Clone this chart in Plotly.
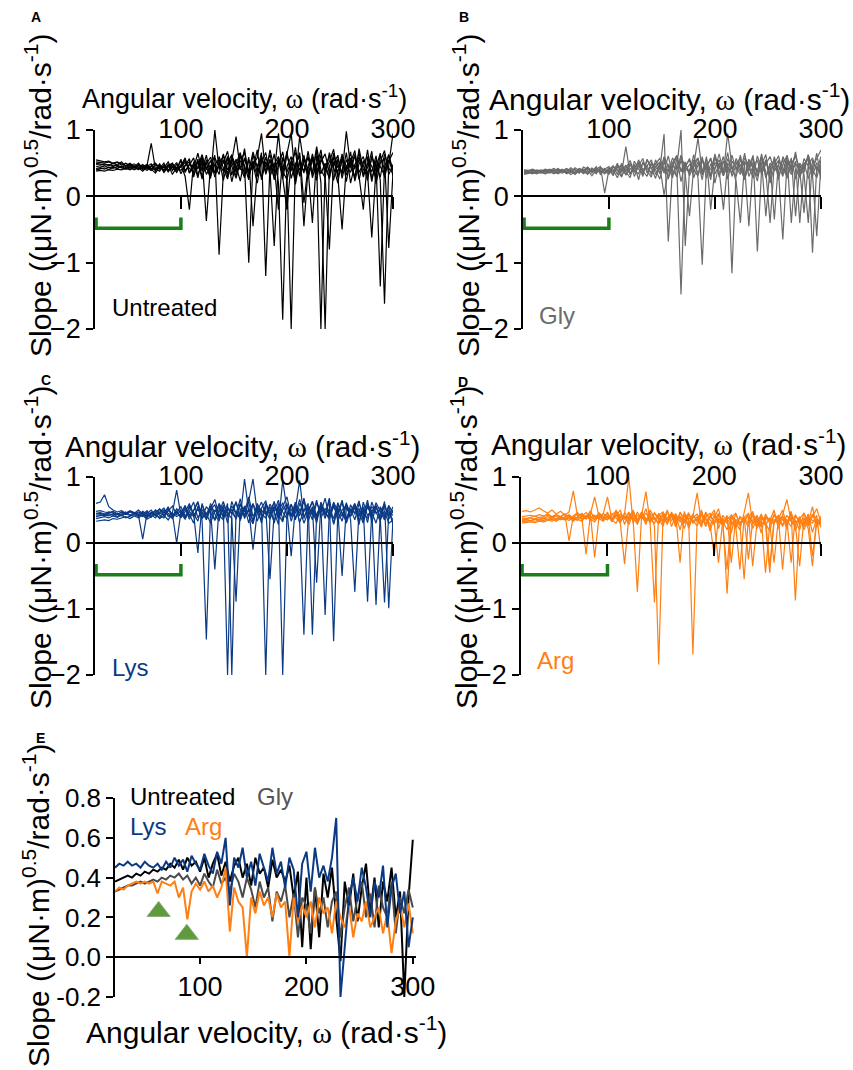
import plotly.graph_objects as go

# ---------------- data ----------------
OMEGA = [20, 24, 28, 32, 36, 40, 44, 48, 52, 56, 60, 64, 68, 72, 76, 80, 84, 88, 92, 96,
         100, 104, 108, 112, 116, 120, 124, 128, 132, 136, 140, 144, 148, 152, 156, 160, 164, 168, 172, 176,
         180, 184, 188, 192, 196, 200, 204, 208, 212, 216, 220, 224, 228, 232, 236, 240, 244, 248, 252, 256,
         260, 264, 268, 272, 276, 280, 284, 288, 292, 296, 300]

UNTREATED_RUNS = [
    [0.38,0.39,0.38,0.40,0.39,0.41,0.40,0.42,0.40,0.43, 0.41,0.44,0.39,0.45,0.42,0.38,0.47,0.40,0.44,0.36,
     0.48,0.30,-0.20,0.52,0.41,0.60,0.33,0.45,0.62,-0.88, 0.35,0.58,0.22,0.49,0.66,0.30,0.55,0.41,0.70,0.25,
     0.52,0.38,0.64,0.20,-1.86,0.45,0.60,0.18,0.55,0.35, 0.68,0.28,0.50,-2.00,0.42,0.62,0.24,0.57,0.33,0.66,
     0.20,0.48,0.59,0.31,0.70,0.26,0.52,-1.36,0.44,0.63, 0.30],
    [0.42,0.43,0.41,0.44,0.42,0.45,0.43,0.41,0.46,0.43, 0.47,0.40,0.45,0.49,0.38,0.46,0.43,0.52,0.39,0.48,
     0.44,0.55,0.36,0.50,0.28,0.58,-0.37,0.47,0.35,0.60, 0.43,0.26,0.57,0.38,0.64,0.45,-1.00,0.52,0.30,0.61,
     0.36,0.56,0.25,0.48,0.67,0.32,-2.00,0.50,0.40,0.62, 0.27,0.55,0.44,0.70,0.30,-0.80,0.52,0.36,0.64,0.22,
     0.58,0.41,0.66,0.29,0.50,0.37,0.61,0.24,-1.62,0.47, 0.95],
    [0.48,0.47,0.49,0.46,0.50,0.47,0.52,0.45,0.48,0.44, 0.50,0.42,0.46,0.80,0.41,0.49,0.37,0.47,0.43,0.51,
     0.34,0.46,0.57,0.29,0.53,0.40,0.62,0.31,0.48,0.56, 0.24,0.50,0.63,0.36,0.45,0.28,0.59,-0.45,0.40,0.66,
     -1.20,0.48,0.30,0.57,0.42,0.64,0.95,0.26,0.51,0.38, 0.60,0.33,0.69,0.21,-2.00,0.46,0.58,0.29,0.54,0.41,
     0.67,0.23,0.49,0.60,0.35,-0.62,0.43,0.65,0.28,0.55, 0.38],
    [0.52,0.51,0.50,0.52,0.49,0.51,0.47,0.50,0.46,0.49, 0.44,0.48,0.42,0.46,0.50,0.41,0.45,0.38,0.49,0.42,
     0.53,0.39,0.47,0.58,0.32,0.51,0.44,0.27,1.00,0.40, 0.55,0.34,0.61,0.46,0.23,0.58,0.37,0.67,0.44,0.29,
     0.59,0.40,-0.75,0.53,0.35,0.68,0.27,0.49,0.61,-0.45, 0.43,0.56,0.24,0.63,0.38,0.52,0.71,0.30,-0.50,0.47,
     0.36,0.62,0.25,0.54,0.42,0.68,0.19,0.50,0.58,-0.78, 0.36],
    [0.55,0.54,0.52,0.53,0.50,0.52,0.49,0.46,0.50,0.45, 0.48,0.43,0.47,0.40,0.49,0.44,0.39,0.46,0.50,0.37,
     0.45,0.51,0.42,0.37,0.56,0.30,0.49,0.59,0.35,0.47, 0.62,0.29,0.53,0.90,0.41,0.57,0.33,0.48,0.20,0.56,
     0.44,0.63,0.35,0.95,0.28,-0.20,0.53,0.66,0.31,0.57, 0.39,-0.40,0.61,0.34,0.50,0.26,0.65,0.43,0.58,0.32,
     0.51,0.69,0.30,-0.20,0.57,0.45,0.27,0.62,0.40,0.53, 0.66],
    [0.40,0.41,0.43,0.40,0.44,0.42,0.45,0.41,0.44,0.40, 0.43,0.38,0.44,0.41,0.35,0.45,0.40,0.48,0.33,0.44,
     0.39,0.47,0.52,0.34,0.45,0.63,0.40,0.54,0.29,0.50, 0.38,0.60,0.45,0.27,0.52,0.66,0.35,0.47,0.58,0.95,
     0.33,0.54,0.46,-0.20,0.59,0.37,0.51,0.22,0.91,0.48, 0.30,0.64,0.37,0.55,0.45,0.28,0.60,0.49,0.35,0.98,
     0.44,0.30,0.56,0.47,0.24,0.61,0.38,0.52,0.69,0.33, 0.48],
    [0.45,0.44,0.46,0.43,0.45,0.42,0.46,0.44,0.41,0.45, 0.40,0.46,0.43,0.39,0.48,0.42,0.50,0.37,0.45,0.41,
     0.56,0.36,0.49,0.43,0.65,0.38,0.51,0.30,0.58,0.44, 0.50,0.68,0.32,0.56,0.40,0.72,0.28,0.53,0.46,0.60,
     0.35,0.70,0.42,0.55,0.26,0.62,0.38,0.74,0.30,0.52, 0.58,0.35,0.75,0.40,0.28,0.66,0.44,0.20,0.60,0.38,
     0.55,0.26,0.72,0.40,0.33,0.58,0.47,0.29,0.64,0.42, 0.35],
    [0.50,0.49,0.47,0.48,0.46,0.47,0.44,0.47,0.43,0.46, 0.42,0.45,0.48,0.42,0.40,0.47,0.36,0.44,0.48,0.40,
     0.46,0.58,0.35,0.44,0.52,0.26,0.55,0.42,0.48,0.33, 0.64,0.40,0.52,0.30,0.60,0.46,0.25,0.63,0.36,0.51,
     0.66,0.30,0.48,0.60,0.38,0.25,0.54,0.42,0.66,-0.10, 0.47,0.60,0.33,0.52,0.64,0.35,0.48,0.62,0.27,0.55,
     0.44,0.63,0.36,0.50,0.60,0.22,0.55,0.45,0.32,0.62, 0.40],
]

GLY_RUNS = [
    [0.36,0.37,0.35,0.38,0.36,0.39,0.37,0.40,0.36,0.39, 0.37,0.41,0.35,0.42,0.38,0.33,0.43,0.37,0.40,0.34,
     0.42,0.31,0.47,0.36,0.75,0.33,0.48,0.25,0.52,0.38, 0.29,0.55,0.40,0.94,-0.68,0.45,0.60,0.22,0.51,0.35,
     0.63,0.28,-1.03,0.46,0.57,0.20,0.50,0.38,0.66,0.30, 0.48,0.58,0.27,0.44,0.62,-0.83,0.41,0.55,0.25,0.60,
     0.35,-0.65,0.52,0.40,0.67,0.28,0.49,0.58,-0.85,0.46, 0.30],
    [0.40,0.39,0.41,0.38,0.40,0.37,0.41,0.38,0.42,0.37, 0.40,0.36,0.43,0.39,0.35,0.44,0.38,0.41,0.45,0.05,
     0.40,0.46,0.33,0.50,0.37,0.28,0.53,0.41,0.34,0.56, 0.43,0.27,0.50,0.38,0.61,0.32,0.47,-1.48,0.44,0.57,
     0.36,0.52,0.25,0.60,-0.20,0.43,0.55,0.31,0.48,-1.16, 0.39,0.62,0.30,0.51,0.44,0.23,0.58,0.37,-0.40,0.49,
     0.61,0.34,0.45,0.56,0.26,0.50,0.41,0.63,0.32,-0.60, 0.52],
    [0.33,0.34,0.36,0.34,0.37,0.35,0.38,0.34,0.37,0.35, 0.38,0.33,0.37,0.40,0.34,0.39,0.31,0.40,0.36,0.42,
     0.35,0.40,0.28,0.44,0.38,0.50,0.30,0.46,0.57,0.35, 0.48,0.40,0.26,0.52,0.37,0.58,0.44,1.00,-0.75,0.40,
     0.55,0.33,0.60,0.27,0.49,0.41,0.64,0.35,0.95,0.46, 0.22,-0.40,0.53,0.38,0.59,0.31,0.48,0.63,0.20,0.45,
     0.54,0.37,0.60,-0.40,0.42,0.29,0.57,0.46,0.35,0.65, 0.25],
    [0.38,0.39,0.37,0.40,0.38,0.41,0.39,0.42,0.38,0.41, 0.36,0.43,0.39,0.35,0.44,0.40,0.37,0.45,0.33,0.41,
     0.45,0.37,0.50,0.31,0.43,0.54,0.36,0.48,0.30,0.55, 0.41,0.50,0.34,0.60,0.45,0.28,0.56,0.39,0.52,0.31,
     0.46,0.88,0.37,0.57,0.30,0.51,0.42,0.60,0.26,0.53, 0.44,0.33,0.58,0.47,0.27,0.61,0.39,0.52,0.35,0.57,
     0.30,0.48,0.62,0.37,0.53,-0.40,0.45,0.58,0.31,0.50, 0.43],
    [0.35,0.36,0.34,0.37,0.35,0.38,0.35,0.37,0.34,0.38, 0.35,0.39,0.33,0.38,0.41,0.36,0.40,0.34,0.43,0.38,
     0.33,0.44,0.39,0.29,0.47,0.35,0.42,0.52,0.37,0.46, 0.55,0.33,0.47,0.02,0.39,0.52,0.29,0.61,0.43,0.36,
     0.50,0.58,0.32,0.47,0.40,0.62,0.29,0.53,0.44,0.35, 0.57,0.41,0.26,0.55,0.48,0.36,0.64,0.29,0.50,0.43,
     0.38,0.56,0.27,0.49,0.60,0.42,0.33,-0.40,0.55,0.39, 0.60],
    [0.37,0.38,0.39,0.36,0.39,0.37,0.40,0.36,0.39,0.37, 0.41,0.37,0.34,0.42,0.39,0.44,0.35,0.42,0.38,0.36,
     0.43,0.38,0.45,0.40,0.33,0.48,0.39,0.34,0.50,0.42, 0.36,0.49,0.57,0.41,0.30,0.50,0.62,0.37,0.46,0.55,
     0.28,0.47,0.53,0.39,0.34,0.58,0.46,0.31,0.57,0.41, 0.52,0.37,0.65,0.30,0.46,0.54,0.33,0.49,0.60,0.38,
     0.47,0.30,0.55,0.43,0.62,0.35,0.50,0.27,0.44,0.58, 0.70],
    [0.39,0.38,0.40,0.39,0.37,0.40,0.38,0.39,0.41,0.38, 0.42,0.39,0.36,0.41,0.37,0.42,0.40,0.36,0.44,0.39,
     0.36,0.45,0.40,0.38,0.47,0.33,0.44,0.50,0.38,0.30, 0.51,0.44,0.36,0.58,0.26,0.47,0.40,0.62,0.33,-0.30,
     0.44,0.57,0.35,0.50,0.25,0.64,0.38,-0.20,0.50,0.42, 0.30,0.55,0.46,-0.45,0.52,0.38,0.60,0.28,0.48,-0.35,
     0.55,0.42,0.30,0.58,-0.30,0.47,0.36,0.62,0.40,0.28, 0.55],
    [0.34,0.35,0.37,0.35,0.36,0.34,0.37,0.39,0.35,0.40, 0.34,0.38,0.41,0.36,0.40,0.34,0.39,0.42,0.37,0.35,
     0.40,0.34,0.43,0.47,0.32,0.42,0.37,0.55,0.40,0.46, 0.33,0.44,0.52,0.35,0.48,0.40,0.30,0.54,0.38,0.48,
     0.40,0.31,0.55,0.42,0.58,0.34,0.47,0.52,0.36,0.62, 0.40,0.48,0.25,0.56,0.42,0.30,0.52,-0.30,0.44,0.55,
     0.25,0.60,0.46,0.33,0.50,0.38,-0.25,0.48,0.58,0.40, 0.35],
]

LYS_RUNS = [
    [0.60,0.62,0.73,0.55,0.50,0.47,0.49,0.45,0.48,0.44, 0.47,0.43,0.49,0.40,0.46,0.52,0.41,0.48,0.56,0.43,
     0.50,0.38,0.57,0.44,-0.15,0.60,0.35,0.52,0.66,0.41, 0.55,0.30,0.63,0.45,0.38,0.97,0.47,0.60,0.33,0.52,
     -2.00,0.45,0.62,0.36,0.55,0.70,0.40,0.58,0.30,-1.39, 0.49,0.63,0.35,0.57,0.44,0.68,0.28,0.53,0.40,0.61,
     0.35,-0.74,0.50,0.43,0.65,0.31,0.56,0.38,-0.90,0.47, 0.42],
    [0.45,0.46,0.44,0.47,0.45,0.43,0.47,0.44,0.48,0.45, 0.42,0.06,0.45,0.50,0.41,0.47,0.53,0.40,0.46,0.80,
     0.42,0.55,0.36,0.49,0.61,0.33,-1.46,0.50,0.58,0.37, 0.52,-2.00,0.45,0.63,0.34,0.56,0.41,0.29,0.60,0.46,
     0.53,-0.55,0.48,0.65,0.35,0.57,0.42,0.62,0.31,0.50, 0.60,-1.39,0.44,0.56,0.37,0.66,-1.49,0.48,0.33,0.59,
     0.46,0.55,0.28,0.62,0.41,0.50,-0.94,0.45,0.60,0.36, 0.50],
    [0.42,0.43,0.41,0.44,0.42,0.45,0.41,0.44,0.42,0.46, 0.43,0.47,0.40,0.45,0.49,0.42,0.38,0.50,0.44,0.00,
     0.47,0.39,0.54,0.45,0.33,0.58,0.43,0.50,-0.40,0.55, 0.40,0.60,-2.00,0.48,0.36,0.52,0.62,0.30,0.55,0.44,
     0.38,0.59,0.47,0.28,0.95,0.50,-0.20,0.56,0.41,0.64, 0.33,0.52,-0.60,0.58,0.45,0.36,0.62,0.48,-0.50,0.54,
     0.41,0.59,0.33,0.52,-0.89,0.48,0.57,0.37,0.63,-0.99, 0.38],
    [0.37,0.38,0.40,0.38,0.41,0.39,0.42,0.38,0.41,0.43, 0.40,0.44,0.38,0.46,0.42,0.39,0.48,0.43,0.37,0.49,
     0.38,0.52,0.44,0.30,0.56,0.47,0.38,0.60,0.44,0.33, 0.58,0.45,0.37,-0.89,0.52,0.40,0.64,0.97,0.45,0.35,
     0.60,0.48,0.33,0.56,-2.00,0.44,0.59,0.38,0.52,0.30, 0.47,0.63,0.40,0.55,-1.09,0.50,0.37,0.61,0.45,0.32,
     0.58,0.44,0.52,0.36,0.60,0.47,0.30,0.55,0.42,0.50, 0.28],
    [0.33,0.34,0.35,0.34,0.37,0.36,0.38,0.40,0.37,0.41, 0.38,0.42,0.36,0.40,0.44,0.37,0.42,0.35,0.45,0.40,
     0.44,0.36,0.48,0.40,0.52,0.37,0.45,0.30,0.50,0.42, 0.35,0.54,0.46,0.38,0.60,0.43,0.50,0.34,0.57,0.40,
     0.48,0.36,0.54,0.44,0.32,0.58,0.40,0.51,0.95,0.37, 0.55,0.45,0.34,0.60,0.42,0.52,0.30,0.57,0.46,0.38,
     0.52,0.35,0.60,0.44,0.38,0.55,0.47,0.33,0.58,0.40, 0.55],
    [0.48,0.49,0.47,0.46,0.48,0.44,0.46,0.43,0.47,0.45, 0.50,0.44,0.41,0.47,0.43,0.51,0.45,0.55,0.40,0.52,
     0.45,0.57,0.40,0.50,0.63,0.38,0.55,0.46,0.35,0.60, 0.48,0.40,0.56,0.44,0.67,0.37,0.52,-0.10,0.48,0.62,
     0.43,0.55,0.30,0.60,0.47,0.37,0.58,0.45,0.66,0.40, 0.52,0.35,0.61,0.46,0.68,0.38,0.55,0.43,0.62,0.30,
     0.50,0.46,0.64,0.33,0.55,0.40,0.61,0.48,0.35,0.56, 0.30],
    [0.40,0.41,0.43,0.41,0.44,0.40,0.43,0.47,0.42,0.45, 0.41,0.48,0.44,0.39,0.50,0.45,0.42,0.53,0.38,0.47,
     0.55,0.41,0.48,0.62,0.38,0.50,0.44,0.56,0.34,0.47, 0.63,0.42,0.51,0.36,0.58,0.47,0.70,0.40,0.53,0.30,
     0.57,0.44,0.63,0.37,0.50,0.60,0.33,0.56,0.45,0.68, 0.40,0.55,0.30,0.62,0.47,0.38,0.58,0.44,0.65,0.36,
     0.48,0.60,0.40,0.55,0.31,0.62,0.45,0.52,0.38,0.57, 0.45],
    [0.44,0.45,0.43,0.45,0.47,0.44,0.42,0.45,0.49,0.46, 0.44,0.40,0.47,0.43,0.38,0.46,0.50,0.45,0.41,0.48,
     0.40,0.47,0.60,0.42,0.52,0.45,0.36,0.54,0.47,0.58, 0.37,0.52,0.44,0.62,0.40,0.55,0.30,0.59,0.46,0.53,
     0.64,0.38,0.56,0.47,0.61,0.42,0.52,0.35,0.60,0.48, 0.56,0.42,0.65,0.38,0.52,0.45,0.60,0.33,0.50,0.57,
     0.40,0.53,0.46,0.30,0.58,0.42,0.55,0.36,0.48,0.30, 0.35],
]

ARG_RUNS = [
    [0.48,0.49,0.47,0.50,0.53,0.49,0.45,0.50,0.44,0.48, 0.42,0.47,0.79,0.40,0.45,0.38,0.49,0.35,0.46,0.40,
     0.45,0.33,0.50,0.38,0.44,0.99,0.30,0.47,0.36,0.52, 0.28,-0.90,0.45,0.33,0.50,0.25,0.42,-0.30,0.48,0.22,
     0.40,0.76,0.30,0.46,0.18,0.38,0.52,0.25,-0.40,0.43, 0.31,0.20,0.46,0.76,0.28,0.40,0.15,0.44,0.33,0.50,
     0.22,0.41,0.30,0.48,0.18,0.37,0.45,0.26,0.40,0.52, 0.30],
    [0.40,0.41,0.42,0.40,0.43,0.41,0.44,0.40,0.43,0.39, 0.44,0.03,0.41,0.46,0.38,-0.17,0.44,0.70,0.40,0.36,
     0.47,0.32,0.42,0.50,0.28,0.45,0.36,-0.74,0.42,0.78, 0.30,0.46,0.38,0.25,0.48,0.34,0.42,0.20,0.45,0.37,
     -1.69,0.35,0.48,0.28,0.40,0.50,0.22,0.42,0.33,0.15, 0.45,0.30,-0.55,0.38,0.48,0.25,0.42,0.30,0.18,0.44,
     0.36,0.50,0.27,0.43,0.33,0.20,0.46,0.31,0.55,0.24, 0.38],
    [0.35,0.36,0.34,0.37,0.36,0.38,0.35,0.39,0.37,0.40, 0.36,0.41,0.38,0.34,0.42,0.37,0.43,-0.22,0.39,0.44,
     0.70,0.36,0.43,0.31,-0.32,0.40,0.48,0.33,0.44,0.28, 0.50,0.38,0.30,0.46,0.35,0.42,0.24,0.47,0.36,0.29,
     0.44,0.33,0.50,0.26,0.39,0.45,0.30,0.38,-0.77,0.32, 0.22,0.40,0.35,0.25,0.46,0.30,0.38,-0.45,0.28,0.42,
     0.32,0.40,0.21,0.47,-0.87,0.35,0.28,0.44,0.16,0.37, 0.24],
    [0.32,0.33,0.34,0.33,0.35,0.34,0.36,0.33,0.37,0.35, 0.38,0.34,0.40,0.36,0.33,0.41,0.37,0.32,0.42,0.38,
     0.35,0.44,0.38,0.30,0.46,0.36,0.40,0.28,0.47,0.35, 0.42,0.26,-1.84,0.40,0.30,0.45,0.33,0.38,0.22,0.44,
     0.32,0.40,0.24,0.47,0.35,0.28,0.42,0.33,0.20,0.38, 0.45,0.28,0.35,0.42,-0.35,0.30,0.44,0.26,0.38,0.32,
     0.40,-0.40,0.34,0.25,0.43,0.30,0.37,0.22,-0.35,0.36, 0.28],
    [0.30,0.31,0.32,0.31,0.33,0.32,0.34,0.36,0.33,0.37, 0.35,0.38,0.33,0.39,0.36,0.42,0.34,0.40,0.37,0.33,
     0.41,0.36,0.30,0.44,0.38,0.33,0.46,0.35,0.40,0.31, 0.45,0.37,0.29,0.43,0.34,0.40,0.30,0.46,0.35,0.27,
     0.38,0.44,0.30,0.36,0.25,0.42,0.33,0.28,0.40,0.34, 0.26,0.38,0.31,0.43,0.22,0.35,0.40,0.28,-0.45,0.36,
     0.30,0.42,0.66,0.33,0.26,0.40,0.20,0.35,0.30,0.42, -0.15],
    [0.38,0.37,0.39,0.41,0.38,0.40,0.42,0.39,0.43,0.40, 0.44,0.39,0.37,0.45,0.41,0.36,0.46,0.40,0.43,0.34,
     0.42,0.37,0.45,0.34,0.40,0.28,0.43,0.36,0.47,0.32, 0.40,0.35,0.44,0.30,0.38,0.45,0.27,0.40,0.33,0.46,
     0.30,0.37,0.43,0.25,0.40,0.32,0.45,0.28,0.36,0.42, 0.33,0.27,0.39,0.45,0.30,0.37,0.24,0.40,0.34,0.29,
     0.42,0.35,0.28,0.45,0.31,0.38,0.25,0.40,0.34,0.30, 0.41],
    [0.34,0.35,0.33,0.36,0.35,0.37,0.36,0.38,0.35,0.39, 0.37,0.42,0.35,0.40,0.44,0.37,0.41,0.35,0.45,0.38,
     0.36,0.43,0.48,0.34,0.41,0.37,0.50,0.30,0.44,0.38, 0.33,0.45,0.36,0.42,0.28,0.47,0.35,0.40,0.30,0.43,
     0.35,0.26,0.44,0.36,0.30,-0.20,0.38,0.28,0.42,-0.30, 0.36,0.30,0.40,-0.25,0.33,0.42,0.26,0.38,-0.35,0.30,
     0.40,0.28,0.36,-0.30,0.42,0.32,0.26,0.40,-0.20,0.33, 0.30],
    [0.36,0.37,0.38,0.36,0.39,0.37,0.40,0.38,0.41,0.36, 0.40,0.43,0.38,0.35,0.41,0.46,0.38,0.42,0.36,0.45,
     0.39,0.35,0.44,0.40,0.36,0.47,0.33,0.42,0.38,0.45, 0.37,0.30,0.42,0.47,0.35,0.40,0.44,0.32,0.41,0.36,
     0.42,0.34,0.27,0.40,0.45,0.30,-0.30,0.36,0.30,0.40, 0.28,-0.40,0.37,0.30,0.42,0.22,0.35,0.40,0.30,-0.30,
     0.36,0.25,0.42,0.33,0.28,-0.35,0.38,0.30,0.44,0.26, 0.36],
]

# Panel E: averaged curves
E_UNTREATED = [0.38,0.39,0.40,0.41,0.40,0.42,0.41,0.43,0.42,0.44, 0.43,0.45,0.44,0.47,0.45,0.49,0.44,0.50,0.46,0.48,
               0.43,0.50,0.40,0.47,0.52,0.41,0.48,0.38,0.46,0.50, 0.40,0.47,0.36,0.50,0.42,0.45,0.35,0.49,0.40,0.44,
               0.38,0.46,0.30,0.43,0.05,0.40,0.04,0.35,0.10,0.42, 0.30,0.45,0.20,-0.02,0.38,0.25,0.42,0.18,0.35,0.47,
               0.22,0.40,0.15,0.38,0.28,0.45,0.20,0.33,-0.20,0.30, 0.59]
E_GLY = [0.33,0.34,0.35,0.36,0.36,0.37,0.38,0.37,0.38,0.39, 0.38,0.40,0.39,0.41,0.40,0.42,0.39,0.41,0.37,0.40,
         0.36,0.42,0.38,0.35,0.44,0.37,0.40,0.33,0.42,0.38, 0.30,0.40,0.34,0.25,0.38,0.30,0.35,0.18,0.33,0.28,
         0.36,0.20,0.32,0.10,0.30,0.26,0.12,0.35,0.22,0.30, 0.15,0.28,0.33,0.10,0.25,0.35,0.18,0.30,0.38,0.20,
         0.32,0.15,0.36,0.25,0.20,0.38,0.12,0.30,0.22,0.34, 0.25]
E_LYS = [0.45,0.47,0.46,0.48,0.46,0.47,0.45,0.48,0.46,0.45, 0.47,0.44,0.48,0.45,0.50,0.46,0.49,0.43,0.51,0.47,
         0.44,0.52,0.46,0.42,0.53,0.47,0.60,0.26,0.50,0.45, 0.55,0.40,0.48,0.36,0.52,0.45,0.38,0.55,0.42,0.48,
         0.35,0.50,0.44,0.20,0.47,0.53,0.33,0.55,0.40,0.46, 0.38,0.50,0.70,-0.20,0.03,0.30,0.40,0.28,0.45,0.35,
         0.20,0.38,0.30,0.46,0.15,0.35,0.42,0.22,0.33,0.05, 0.20]
E_ARG = [0.33,0.35,0.34,0.36,0.37,0.38,0.37,0.38,0.37,0.38, 0.32,0.38,0.37,0.36,0.38,0.30,0.35,0.19,0.33,0.37,
         0.34,0.38,0.33,0.36,0.30,0.35,0.45,0.13,0.35,0.28, 0.25,0.00,0.30,0.22,0.33,0.26,0.30,0.20,0.32,0.25,
         0.28,0.00,0.30,0.18,0.26,0.20,0.28,0.15,0.30,0.22, 0.25,0.12,0.28,0.20,0.15,0.26,0.10,0.22,0.18,0.28,
         0.15,0.20,0.25,0.12,0.22,0.02,0.18,0.26,0.15,0.27, 0.12]

# markers (green arrowheads) in panel E
MARK_X = [61, 87.5]
MARK_Y = [0.23, 0.115]

# low-velocity window bracket
BRACKET_X = [20, 20, 100, 100]
BRACKET_Y = [-0.32, -0.48, -0.48, -0.32]

TICKS_X = [100, 200, 300]
TICKS_Y_AD = [-2, -1, 0, 1]
TICKS_Y_E = [-0.2, 0.0, 0.2, 0.4, 0.6, 0.8]

GROUPS = ["Untreated", "Gly", "Lys", "Arg"]
COLORS = {"Untreated": "#000000", "Gly": "#6b6b6b", "Lys": "#0b3a84", "Arg": "#ff7f12"}
E_COLORS = {"Untreated": "#000000", "Gly": "#4a4a4a", "Lys": "#0b3a84", "Arg": "#ff7f12"}

# ---------------- layout helpers ----------------
W, H = 853, 1070
FONT = "Liberation Sans, Arial, sans-serif"


def fx(px):
    return px / W


def fy(py):
    return 1 - py / H


def ax_name(letter, n):
    return letter if n == 1 else f"{letter}{n}"


def ax_key(letter, n):
    return f"{letter}axis" if n == 1 else f"{letter}axis{n}"


XTITLE = "Angular velocity, <span style='font-family:Liberation Serif'>ω</span> (rad·s<sup>-1</sup>)"
YTITLE = "Slope ((μN·m)<sup>0.5</sup>/rad·s<sup>-1</sup>)"

panels = [
    dict(letter="A", runs=UNTREATED_RUNS, group="Untreated", xpx=(95, 393), ypx=(130, 329),
         lab=(36, 17), xt=(244, 97), xts=27, yt=(38, 195), nm=(110, 307)),
    dict(letter="B", runs=GLY_RUNS, group="Gly", xpx=(523, 821), ypx=(130, 329),
         lab=(464, 17), xt=(669, 97), xts=30, yt=(466, 195), nm=(537, 315)),
    dict(letter="C", runs=LYS_RUNS, group="Lys", xpx=(95, 393), ypx=(477, 675),
         lab=(46, 380), xt=(243, 444), xts=29.5, yt=(38, 547), nm=(110, 667)),
    dict(letter="D", runs=ARG_RUNS, group="Arg", xpx=(521, 821), ypx=(477, 675),
         lab=(463, 382), xt=(668, 442), xts=29.5, yt=(464, 547), nm=(535, 660)),
]

fig = go.Figure()
layout = dict(width=W, height=H, margin=dict(l=0, r=0, t=0, b=0, autoexpand=False),
              paper_bgcolor="white", plot_bgcolor="rgba(0,0,0,0)",
              showlegend=False, font=dict(family=FONT, color="black"))
annotations = []

XR = [19, 300]
YR = [-2, 1]
COMMON = dict(automargin=False, showgrid=False, zeroline=False)

for i, p in enumerate(panels):
    na, nb, ny = 2 * i + 1, 2 * i + 2, i + 1
    xa, xb, ya = ax_name("x", na), ax_name("x", nb), ax_name("y", ny)
    xdom = [fx(p["xpx"][0]), fx(p["xpx"][1])]
    ydom = [fy(p["ypx"][1]), fy(p["ypx"][0])]
    zero_pos = ydom[0] + (0 - YR[0]) / (YR[1] - YR[0]) * (ydom[1] - ydom[0])
    top_pos = ydom[1] - 13 / H

    layout[ax_key("x", na)] = dict(domain=xdom, range=XR, anchor="free", position=top_pos,
                                   side="top", showline=False, ticks="", tickvals=TICKS_X,
                                   tickfont=dict(size=27), **COMMON)
    layout[ax_key("x", nb)] = dict(overlaying=xa, range=XR, anchor="free", position=zero_pos,
                                   side="bottom", showline=True, linecolor="black", linewidth=1.5,
                                   ticks="outside", ticklen=12, tickwidth=1.5, tickcolor="black",
                                   tickvals=TICKS_X, showticklabels=False, **COMMON)
    layout[ax_key("y", ny)] = dict(domain=ydom, range=YR, anchor=xa, showline=True, linecolor="black",
                                   linewidth=1.5, ticks="outside", ticklen=7, tickwidth=1.5,
                                   tickcolor="black", tickvals=TICKS_Y_AD, tickfont=dict(size=27),
                                   **COMMON)

    col = COLORS[p["group"]]
    for run in p["runs"]:
        fig.add_trace(go.Scatter(x=OMEGA, y=run, mode="lines", xaxis=xa, yaxis=ya,
                                 line=dict(color=col, width=1.2), hoverinfo="skip"))
    fig.add_trace(go.Scatter(x=BRACKET_X, y=BRACKET_Y, mode="lines", xaxis=xa, yaxis=ya,
                             line=dict(color="#1a7f1a", width=3.5), hoverinfo="skip"))
    fig.add_trace(go.Scatter(x=[], y=[], xaxis=xb, yaxis=ya, hoverinfo="skip"))

    annotations += [
        dict(text=f"<b>{p['letter']}</b>", x=fx(p["lab"][0]), y=fy(p["lab"][1]), xref="paper", yref="paper",
             showarrow=False, font=dict(size=14), xanchor="center", yanchor="middle"),
        dict(text=XTITLE, x=fx(p["xt"][0]), y=fy(p["xt"][1]), xref="paper", yref="paper",
             showarrow=False, font=dict(size=p["xts"]), xanchor="center", yanchor="middle"),
        dict(text=YTITLE, x=fx(p["yt"][0]), y=fy(p["yt"][1]), xref="paper", yref="paper", textangle=-90,
             showarrow=False, font=dict(size=30), xanchor="center", yanchor="middle"),
        dict(text=p["group"], x=fx(p["nm"][0]), y=fy(p["nm"][1]), xref="paper", yref="paper",
             showarrow=False, font=dict(size=24, color=col), xanchor="left", yanchor="middle"),
    ]

# ---------------- panel E ----------------
XE = [20, 303]
YE = [-0.2, 0.8]
xdom = [fx(115), fx(416)]
ydom = [fy(997), fy(798)]
zero_e = ydom[0] + (0 - YE[0]) / (YE[1] - YE[0]) * (ydom[1] - ydom[0])
layout["xaxis9"] = dict(domain=xdom, range=XE, anchor="free", position=zero_e, side="bottom",
                        showline=True, linecolor="black", linewidth=1.5, ticks="outside", ticklen=6,
                        tickwidth=1.5, tickcolor="black", tickvals=TICKS_X, tickfont=dict(size=27),
                        **COMMON)
layout["yaxis5"] = dict(domain=ydom, range=YE, anchor="x9", showline=True, linecolor="black",
                        linewidth=1.5, ticks="outside", ticklen=7, tickwidth=1.5, tickcolor="black",
                        tickvals=TICKS_Y_E, ticktext=[f"{v:.1f}" for v in TICKS_Y_E],
                        tickfont=dict(size=26), **COMMON)

for g, ys in [("Untreated", E_UNTREATED), ("Gly", E_GLY), ("Arg", E_ARG), ("Lys", E_LYS)]:
    fig.add_trace(go.Scatter(x=OMEGA, y=ys, mode="lines", xaxis="x9", yaxis="y5",
                             line=dict(color=E_COLORS[g], width=2), hoverinfo="skip"))
fig.add_trace(go.Scatter(x=MARK_X, y=MARK_Y, mode="markers", xaxis="x9", yaxis="y5",
                         marker=dict(symbol="triangle-up", size=20, color="#5f9b3c",
                                     line=dict(color="#86a978", width=1)), hoverinfo="skip"))

annotations += [
    dict(text="<b>E</b>", x=fx(40), y=fy(738), xref="paper", yref="paper", showarrow=False,
         font=dict(size=14), xanchor="center", yanchor="middle"),
    dict(text=XTITLE, x=fx(266), y=fy(1030), xref="paper", yref="paper", showarrow=False,
         font=dict(size=30), xanchor="center", yanchor="middle"),
    dict(text=YTITLE, x=fx(36), y=fy(905), xref="paper", yref="paper", textangle=-90,
         showarrow=False, font=dict(size=30), xanchor="center", yanchor="middle"),
]
for g, (lx, ly) in zip(GROUPS, [(128, 796), (255, 796), (128, 826), (183, 826)]):
    annotations.append(dict(text=g, x=fx(lx), y=fy(ly), xref="paper", yref="paper", showarrow=False,
                            font=dict(size=24, color=E_COLORS[g] if g != "Gly" else "#555555"),
                            xanchor="left", yanchor="middle"))

layout["annotations"] = annotations
fig.update_layout(**layout)
fig.write_html("out.html", config={"displayModeBar": False},
               post_script="document.body.style.margin='0';document.body.style.overflow='hidden';")
